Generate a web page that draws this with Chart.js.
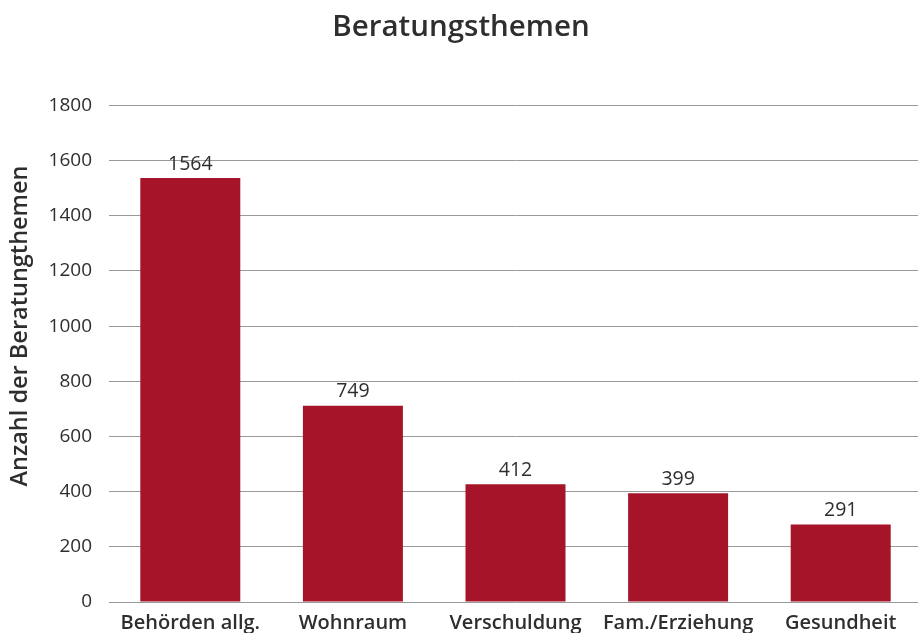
<!DOCTYPE html>
<html lang="de">
<head>
  <meta charset="UTF-8" />
  <title>Beratungsthemen</title>
  <script src="https://cdn.jsdelivr.net/npm/chart.js"></script>
  <style>
    html, body {
      margin: 0;
      padding: 0;
      background: #fff;
      overflow: hidden;
    }
    .wrap {
      width: 922px;
      height: 633px;
    }
  </style>
</head>
<body>
<div class="wrap">
  <canvas id="chart"></canvas>
</div>

<script>
  // data
  const categories = ['Behörden allg.', 'Wohnraum', 'Verschuldung', 'Fam./Erziehung', 'Gesundheit'];
  const barValues = [1537, 711, 427, 394, 281];
  const valueLabels = ['1564', '749', '412', '399', '291'];
  const yTicks = [0, 200, 400, 600, 800, 1000, 1200, 1400, 1600, 1800];

  const textColor = '#2e2e2e';
  const font = "'Open Sans', 'Noto Sans', sans-serif";

  // value labels above bars + rotated y title
  const extras = {
    id: 'extras',
    afterDatasetsDraw(chart) {
      const ctx = chart.ctx;
      const meta = chart.getDatasetMeta(0);
      ctx.save();
      ctx.fillStyle = textColor;
      ctx.font = '19.5px ' + font;
      ctx.textAlign = 'center';
      ctx.textBaseline = 'middle';
      meta.data.forEach((bar, i) => {
        ctx.fillText(valueLabels[i], bar.x, bar.y - 14);
      });
      ctx.translate(20, 326);
      ctx.rotate(-Math.PI / 2);
      ctx.font = '600 23.5px ' + font;
      ctx.fillText('Anzahl der Beratungthemen', 0, 0);
      ctx.restore();
    }
  };

  new Chart(document.getElementById('chart'), {
    type: 'bar',
    data: {
      labels: categories,
      datasets: [{
        data: barValues,
        backgroundColor: '#a51428',
        categoryPercentage: 1,
        barPercentage: 0.615
      }]
    },
    options: {
      responsive: true,
      maintainAspectRatio: false,
      animation: false,
      layout: {
        padding: 0
      },
      scales: {
        x: {
          afterFit: s => { s.height = 31; },
          grid: { display: false },
          border: { display: false },
          ticks: {
            color: textColor,
            padding: 1,
            font: { family: font, size: 20, weight: '600' }
          }
        },
        y: {
          min: 0,
          max: 1800,
          afterFit: s => { s.width = 109; },
          afterBuildTicks: s => { s.ticks = yTicks.map(v => ({ value: v })); },
          grid: { color: '#9a9a9a', lineWidth: 1, drawTicks: false },
          border: { display: false },
          ticks: {
            color: textColor,
            padding: 17,
            callback: v => String(v),
            font: { family: font, size: 19 }
          }
        }
      },
      plugins: {
        legend: { display: false },
        tooltip: { enabled: false },
        title: {
          display: true,
          text: 'Beratungsthemen',
          color: textColor,
          padding: { top: 10, bottom: 60 },
          font: { family: font, size: 29.5, weight: '600' }
        }
      }
    },
    plugins: [extras]
  });
</script>
</body>
</html>
